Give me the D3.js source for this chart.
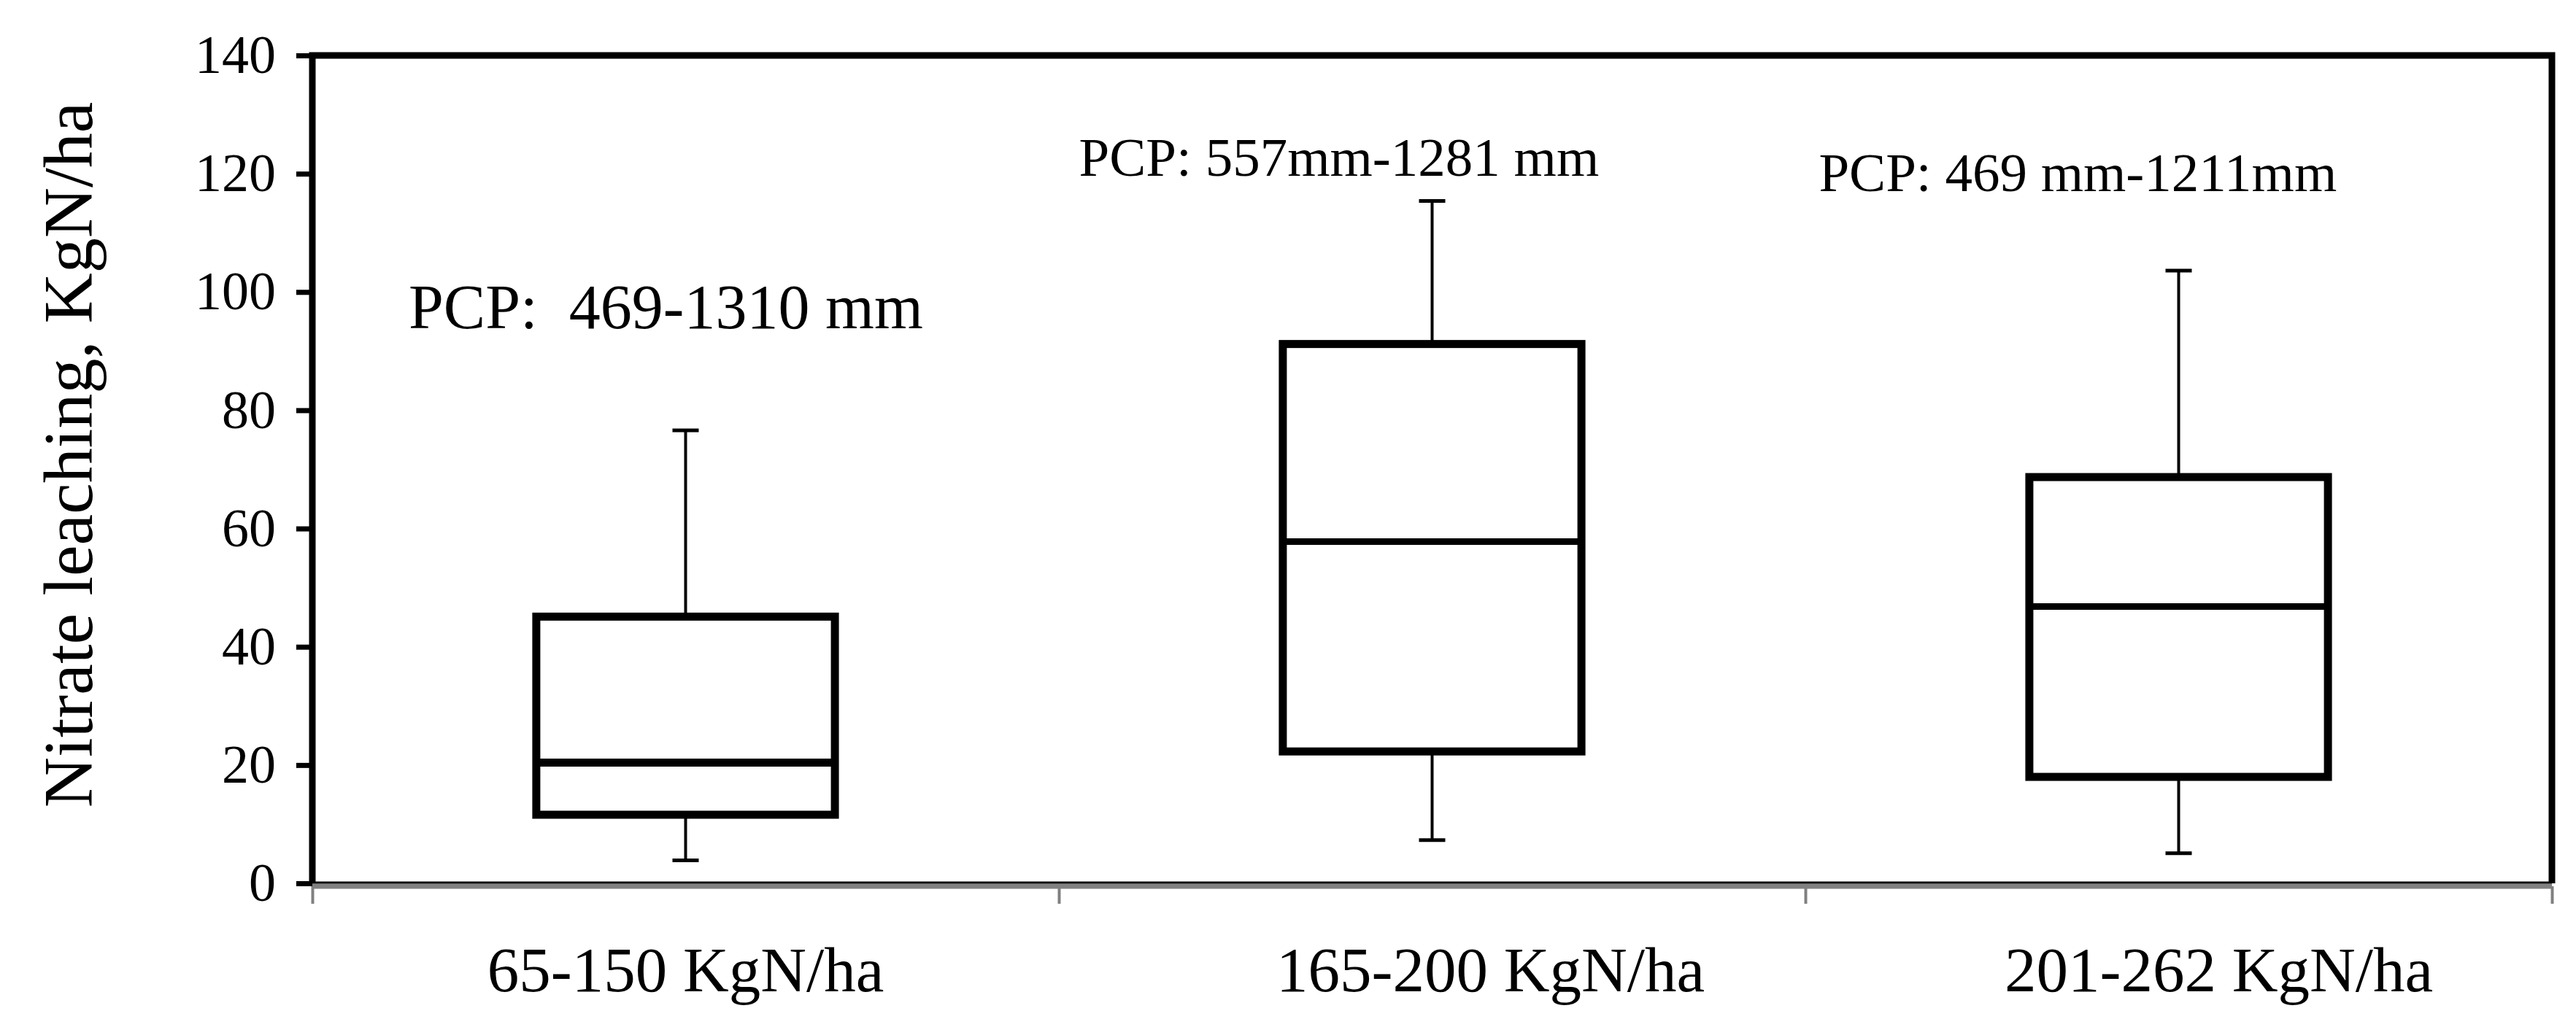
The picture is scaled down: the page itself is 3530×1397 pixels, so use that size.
<!DOCTYPE html>
<html>
<head>
<meta charset="utf-8">
<script src="https://cdn.jsdelivr.net/npm/d3@7"></script>
<style>
  html, body { margin: 0; padding: 0; background: #fff; }
  text { font-family: 'Liberation Serif', 'Times New Roman', serif; fill: #000; }
</style>
</head>
<body>
<div class="chart-container"></div>
<script>
const categories = ['65-150 KgN/ha', '165-200 KgN/ha', '201-262 KgN/ha'];
// five-number summaries: min, q1, median, q3, max
const mins = [3.9, 7.3, 5.1];
const q1s = [11.6, 22.3, 18.0];
const medians = [20.4, 57.8, 46.8];
const q3s = [45.1, 91.2, 68.7];
const maxs = [76.6, 115.4, 103.6];
const pcpLabels = ['PCP:  469-1310 mm', 'PCP: 557mm-1281 mm', 'PCP: 469 mm-1211mm'];
const pcpLevels = [93.9, 119.6, 117.0];
const yTicks = [0, 20, 40, 60, 80, 100, 120, 140];

const width = 3530;
const height = 1397;
const margin = { top: 76, right: 33, bottom: 186, left: 428 };

function createSvg() {
  return d3.select('.chart-container')
    .append('svg')
    .attr('width', width)
    .attr('height', height)
    .style('display', 'block');
};

function createScales() {
  const x = d3.scaleBand()
    .domain(categories)
    .range([margin.left, width - margin.right])
    .padding(0);
  const y = d3.scaleLinear()
    .domain([0, 140])
    .range([height - margin.bottom, margin.top]);
  return { x, y };
};

function drawAxes(svg, x, y) {
  const yAxis = svg.append('g')
    .attr('transform', `translate(${margin.left},0)`)
    .call(d3.axisLeft(y).tickValues(yTicks).tickSize(22).tickPadding(28));
  yAxis.select('.domain').remove();
  yAxis.selectAll('.tick line').attr('stroke', '#000').attr('stroke-width', 7);
  yAxis.selectAll('.tick text').style('font-size', '74px');

  // gray category separators below the axis
  const edges = d3.scaleLinear().domain([0, categories.length]).range(x.range());
  const xTicks = svg.append('g')
    .attr('transform', `translate(0,${y(0) + 4})`)
    .call(d3.axisBottom(edges).ticks(categories.length).tickSize(24).tickFormat(''));
  xTicks.select('.domain').remove();
  xTicks.selectAll('.tick line').attr('stroke', '#808080').attr('stroke-width', 4);

  // labels in the original sit a little right of centre for the last two groups
  const labelShift = [0, 80, 55];
  const xLabels = svg.append('g')
    .attr('transform', `translate(0,${y(0)})`)
    .call(d3.axisBottom(x).tickSize(0).tickPadding(86));
  xLabels.select('.domain').remove();
  xLabels.selectAll('.tick text')
    .style('font-size', '87px')
    .attr('dx', (d, i) => labelShift[i]);

  svg.append('text')
    .attr('transform', `translate(126,${(y(0) + y(140)) / 2 - 20}) rotate(-90)`)
    .attr('text-anchor', 'middle')
    .style('font-size', '96px')
    .text('Nitrate leaching, KgN/ha');
};

function drawFrame(svg, x, y) {
  const [x0, x1] = x.range();
  svg.append('path')
    .attr('d', `M${x0},${y(0)}V${y(140)}H${x1}V${y(0)}`)
    .attr('fill', 'none')
    .attr('stroke', '#000')
    .attr('stroke-width', 9);
  svg.append('line')
    .attr('x1', x0).attr('x2', x1)
    .attr('y1', y(0) + 4).attr('y2', y(0) + 4)
    .attr('stroke', '#808080').attr('stroke-width', 7);
  svg.append('line')
    .attr('x1', x0).attr('x2', x1)
    .attr('y1', y(0) - 1).attr('y2', y(0) - 1)
    .attr('stroke', '#000').attr('stroke-width', 3);
};

function drawBoxes(svg, x, y) {
  const boxes = categories.map((c, i) => ({
    cat: c, min: mins[i], q1: q1s[i], med: medians[i], q3: q3s[i], max: maxs[i]
  }));
  const bw = x.bandwidth() * 0.4;
  const capW = 36;
  const cx = d => x(d.cat) + x.bandwidth() / 2;

  const g = svg.append('g')
    .selectAll('g')
    .data(boxes)
    .join('g');

  g.append('line')
    .attr('x1', cx).attr('x2', cx)
    .attr('y1', d => y(d.max)).attr('y2', d => y(d.q3))
    .attr('stroke', '#000').attr('stroke-width', 4);
  g.append('line')
    .attr('x1', cx).attr('x2', cx)
    .attr('y1', d => y(d.q1)).attr('y2', d => y(d.min))
    .attr('stroke', '#000').attr('stroke-width', 4);
  g.append('line')
    .attr('x1', d => cx(d) - capW / 2).attr('x2', d => cx(d) + capW / 2)
    .attr('y1', d => y(d.max)).attr('y2', d => y(d.max))
    .attr('stroke', '#000').attr('stroke-width', 5);
  g.append('line')
    .attr('x1', d => cx(d) - capW / 2).attr('x2', d => cx(d) + capW / 2)
    .attr('y1', d => y(d.min)).attr('y2', d => y(d.min))
    .attr('stroke', '#000').attr('stroke-width', 5);

  g.append('rect')
    .attr('x', d => cx(d) - bw / 2)
    .attr('y', d => y(d.q3))
    .attr('width', bw)
    .attr('height', d => y(d.q1) - y(d.q3))
    .attr('fill', '#fff')
    .attr('stroke', '#000')
    .attr('stroke-width', 11);
  g.append('line')
    .attr('x1', d => cx(d) - bw / 2).attr('x2', d => cx(d) + bw / 2)
    .attr('y1', d => y(d.med)).attr('y2', d => y(d.med))
    .attr('stroke', '#000').attr('stroke-width', (d, i) => i === 0 ? 11 : 9);
};

function drawAnnotations(svg, x, y) {
  // left edge of each label, as a share of its category band
  const offsets = [0.129, 0.027, 0.018];
  const sizes = [86, 75, 75];
  svg.append('g')
    .selectAll('text')
    .data(pcpLabels)
    .join('text')
    .attr('x', (d, i) => x(categories[i]) + offsets[i] * x.bandwidth())
    .attr('y', (d, i) => y(pcpLevels[i]))
    .style('font-size', (d, i) => `${sizes[i]}px`)
    .style('white-space', 'pre')
    .attr('xml:space', 'preserve')
    .text(d => d);
};

const svg = createSvg();
svg.append('rect').attr('width', width).attr('height', height).attr('fill', '#fff');
const { x, y } = createScales();
drawFrame(svg, x, y);
drawBoxes(svg, x, y);
drawAxes(svg, x, y);
drawAnnotations(svg, x, y);
</script>
</body>
</html>
